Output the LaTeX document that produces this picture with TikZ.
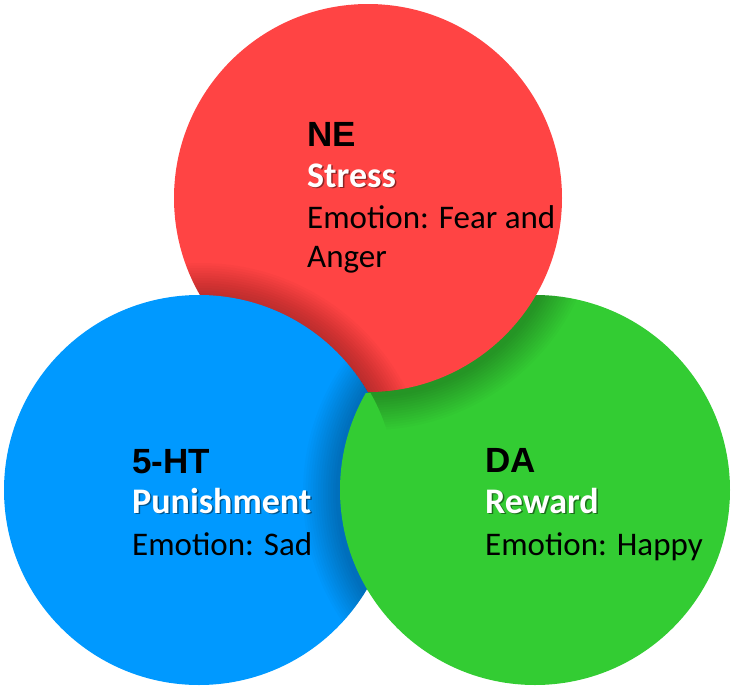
\documentclass[tikz,border=0pt]{standalone}
\usepackage{fontspec}
\setmainfont{Carlito}
\newfontfamily\headfont{Liberation Sans}
\usepackage{tikz}
\usetikzlibrary{calc,positioning}
\definecolor{nered}{RGB}{255,68,68}
\definecolor{htblue}{RGB}{0,153,255}
\definecolor{dagreen}{RGB}{51,204,51}
\tikzset{%
	bubble/.style   = {circle, inner sep=0pt}, % transmitter circle
	head/.style     = {anchor=base west, inner sep=0pt, font=\headfont\fontsize{35}{40}\selectfont\bfseries}, % NE, 5-HT, DA
	role/.style     = {anchor=base west, inner sep=0pt, text=white, font=\fontsize{36}{40}\selectfont\bfseries}, % Stress ...
	roleshade/.style= {role, text=black, opacity=0.45, xshift=1.5pt, yshift=-1.5pt}, % shadow under role
	emo/.style      = {anchor=base west, inner sep=0pt, font=\fontsize{33}{40}\selectfont}, % Emotion
	shade/.style    = {black, opacity=0.02}, % soft shadow ring
}
\begin{document}
\begin{tikzpicture}[x=1pt,y=1pt]
		\useasboundingbox (0,0) rectangle (732,-691);
		\node[bubble] (ne) at (368,-198) {};
		\node[bubble] (ht) at (199,-490) {};
		\node[bubble] (da) at (535,-490) {};
		% green, then red on it
		\fill[dagreen] (da.center) circle (195);
		\begin{scope}
			\clip (da.center) circle (195);
			\foreach \k in {1,...,14}
				\fill[shade] ($(ne.center)+(2,-3)$) circle (194+2.5*\k);
		\end{scope}
		\fill[nered] (ne.center) circle (194);
		% blue on red
		\begin{scope}
			\clip (ne.center) circle (194);
			\foreach \k in {1,...,14}
				\fill[shade] ($(ht.center)+(2,-3)$) circle (195+2.5*\k);
		\end{scope}
		\fill[htblue] (ht.center) circle (195);
		% green on blue
		\begin{scope}
			\clip (ht.center) circle (195);
			\foreach \k in {1,...,14}
				\fill[shade] ($(da.center)+(-2,-3)$) circle (195+2.5*\k);
		\end{scope}
		\begin{scope}
			\clip (ht.center) circle (197);
			\clip (300,-393) rectangle (420,-691);
			\fill[dagreen] (da.center) circle (195);
		\end{scope}
		% texts
		\node[head] (nehead) at (307,-146) {NE};
		\node[below=41pt of nehead.base west, roleshade] {Stress};
		\node[below=41pt of nehead.base west, role] (stress) {Stress};
		\node[below=41pt of stress.base west, emo] (neemo) {Emotion: Fear and};
		\node[below=39pt of neemo.base west, emo] (anger) {Anger};
		\node[head] (hthead) at (132,-473) {5-HT};
		\node[below=40pt of hthead.base west, roleshade] {Punishment};
		\node[below=40pt of hthead.base west, role] (punish) {Punishment};
		\node[below=42pt of punish.base west, emo] (htemo) {Emotion: Sad};
		\node[head] (dahead) at (485,-472) {DA};
		\node[below=41pt of dahead.base west, roleshade] {Reward};
		\node[below=41pt of dahead.base west, role] (reward) {Reward};
		\node[below=42pt of reward.base west, emo] (daemo) {Emotion: Happy};
\end{tikzpicture}
\end{document}
